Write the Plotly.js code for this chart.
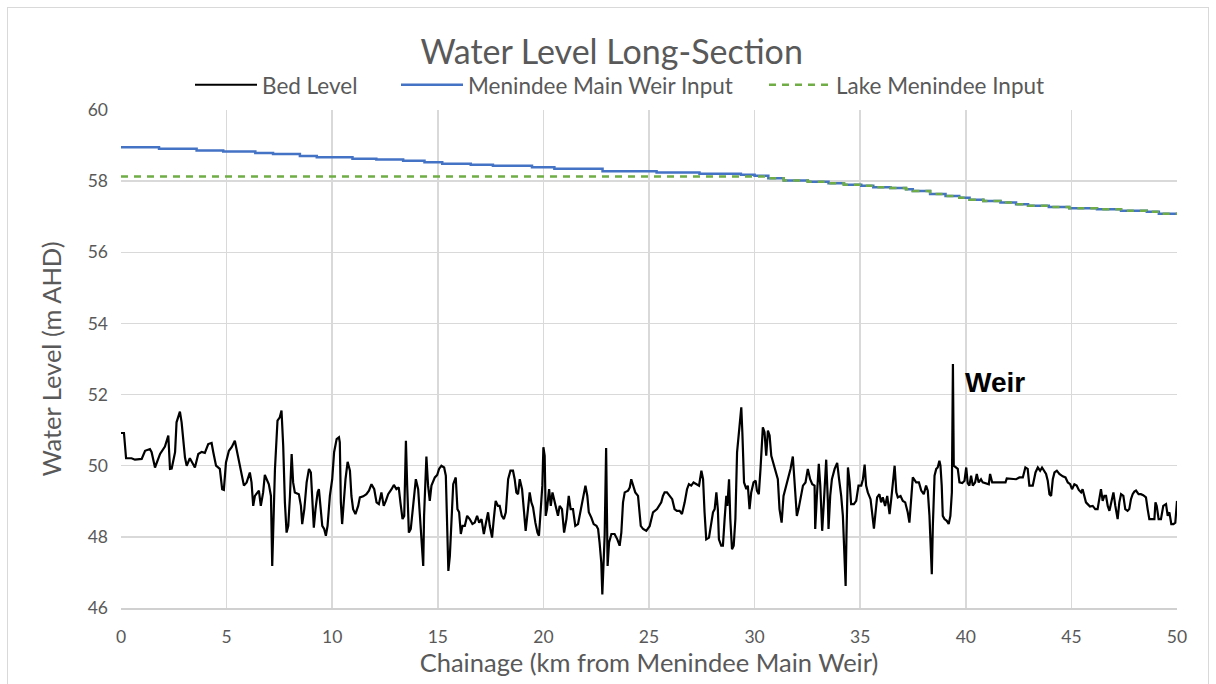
<!DOCTYPE html>
<html>
<head>
<meta charset="utf-8">
<script src="https://cdn.plot.ly/plotly-3.0.1.min.js"></script>
<style>
  html, body { margin: 0; padding: 0; background: #ffffff; }
  #wrap { position: relative; width: 1216px; height: 684px; overflow: hidden; }
  #frame { position: absolute; left: 7px; top: 7px; width: 1202px; height: 700px; border: 1px solid #d9d9d9; box-sizing: border-box; pointer-events: none; }
  #chart { position: absolute; left: 0; top: 0; width: 1216px; height: 684px; }
</style>
</head>
<body>
<div id="wrap">
  <div id="chart"></div>
  <div id="frame"></div>
</div>
<script>
// Chainage (km) and bed level (m AHD)
const bedX = [0, 0.14, 0.24, 0.50, 0.66, 0.98, 1.14, 1.37, 1.45, 1.61, 1.85, 2.08, 2.24, 2.32, 2.40, 2.56, 2.63, 2.79, 2.87, 3.03, 3.11, 3.26, 3.50, 3.66, 3.82, 3.97, 4.13, 4.29, 4.37, 4.50, 4.68, 4.79, 4.87, 4.97, 5.11, 5.24, 5.39, 5.47, 5.60, 5.71, 5.82, 5.95, 6.10,
  6.18, 6.26, 6.34, 6.53, 6.62, 6.73, 6.81, 7.00, 7.10, 7.16, 7.29, 7.37, 7.41, 7.52, 7.60, 7.68, 7.76, 7.84, 7.92, 8.00, 8.08, 8.15, 8.23, 8.42, 8.52, 8.58, 8.68, 8.79, 8.90, 8.99, 9.05, 9.13, 9.21, 9.31, 9.37, 9.46, 9.53, 9.62, 9.70, 9.78, 9.89, 10.00, 10.09, 10.21, 10.32, 10.36, 10.41, 10.47, 10.57, 10.63, 10.73, 10.84, 10.91, 10.99, 11.10, 11.23, 11.31, 11.47, 11.62, 11.74, 11.86, 11.99, 12.10, 12.21, 12.33,
  12.44, 12.54, 12.65, 12.81, 12.92, 13.04, 13.15, 13.23, 13.33, 13.41, 13.49, 13.55, 13.63, 13.72, 13.83, 13.96, 14.07, 14.15, 14.23, 14.31, 14.35, 14.42, 14.46, 14.54, 14.62, 14.70, 14.86, 14.97, 15.06, 15.17, 15.30, 15.38, 15.44, 15.50, 15.57, 15.65, 15.73, 15.85, 15.93, 16.01, 16.09, 16.17, 16.28, 16.39, 16.51, 16.64, 16.75, 16.86, 16.96, 17.07, 17.18, 17.27, 17.38, 17.46, 17.57, 17.65, 17.74, 17.85, 17.93, 18.03, 18.13, 18.22, 18.33, 18.44, 18.56, 18.64,
  18.72, 18.80, 18.88, 18.99, 19.09, 19.16, 19.27, 19.35, 19.43, 19.51, 19.62, 19.72, 19.79, 19.87, 19.95, 20.00, 20.06, 20.11, 20.17, 20.27, 20.35, 20.43, 20.54, 20.62, 20.69, 20.77, 20.88, 20.98, 21.09, 21.20, 21.29, 21.40, 21.51, 21.64, 21.77, 21.88, 21.99, 22.08, 22.15, 22.27, 22.38, 22.51, 22.59, 22.66, 22.74, 22.79, 22.84, 22.90, 22.97, 23.00, 23.04, 23.11, 23.22, 23.37, 23.50, 23.61, 23.69, 23.77, 23.85, 24.01, 24.09, 24.16, 24.24, 24.35, 24.48, 24.61, 24.72, 24.87, 25.03,
  25.19, 25.38, 25.47, 25.58, 25.66, 25.74, 25.85, 25.98, 26.10, 26.21, 26.32, 26.45, 26.56, 26.69, 26.80, 26.89, 27.00, 27.11, 27.24, 27.37, 27.48, 27.56, 27.63, 27.71, 27.84, 27.92, 28.03, 28.11, 28.19, 28.26, 28.31, 28.42, 28.50, 28.58, 28.66, 28.71, 28.79, 28.85, 28.93, 29.01, 29.09, 29.17, 29.26, 29.37, 29.42, 29.50, 29.61, 29.68, 29.76, 29.84, 29.95, 30.05, 30.11, 30.20, 30.28, 30.39, 30.47, 30.55, 30.63, 30.71, 30.79, 30.90, 30.99, 31.10, 31.18, 31.28, 31.37, 31.50, 31.63,
  31.70, 31.81, 31.89, 32.00, 32.08, 32.18, 32.29, 32.41, 32.52, 32.63, 32.73, 32.84, 32.87, 32.95, 33.04, 33.11, 33.20, 33.28, 33.39, 33.47, 33.50, 33.58, 33.66, 33.79, 33.91, 34.00, 34.10, 34.18, 34.26, 34.31, 34.35, 34.42, 34.50, 34.57, 34.70, 34.81, 34.92, 35.05, 35.13, 35.21, 35.28, 35.36, 35.49, 35.55, 35.65, 35.71, 35.80, 35.91, 35.99, 36.07, 36.18, 36.28, 36.39, 36.47, 36.55, 36.63, 36.71, 36.78, 36.91, 37.02, 37.13, 37.25, 37.33, 37.41, 37.49, 37.65, 37.78, 37.89, 38.01,
  38.12, 38.20, 38.28, 38.36, 38.39, 38.44, 38.52, 38.60, 38.67, 38.75, 38.80, 38.86, 38.91, 38.99, 39.10, 39.19, 39.27, 39.34, 39.39, 39.43, 39.51, 39.62, 39.70, 39.83, 39.94, 40.02, 40.09, 40.17, 40.25, 40.33, 40.44, 40.52, 40.61, 40.72, 40.80, 40.96, 41.09, 41.15, 41.25, 41.88, 41.94, 42.38, 42.54, 42.70, 42.82, 42.93, 43.01, 43.17, 43.30, 43.41, 43.52, 43.61, 43.72, 43.80, 43.88, 43.96, 44.04, 44.12, 44.20, 44.31,
  44.43, 44.59, 44.72, 44.83, 44.94, 45.03, 45.14, 45.25, 45.35, 45.46, 45.53, 45.61, 45.69, 45.77, 45.88, 46.01, 46.13, 46.24, 46.32, 46.40, 46.48, 46.56, 46.64, 46.72, 46.80, 46.88, 46.99, 47.08, 47.19, 47.27, 47.35, 47.46, 47.55, 47.66, 47.74, 47.82, 47.90, 47.98, 48.06, 48.18, 48.29, 48.40, 48.53, 48.61, 48.69, 48.93, 48.98, 49.04, 49.13, 49.24, 49.35, 49.48, 49.56, 49.64, 49.73, 49.83, 49.92, 50.00];
const bedY = [50.92, 50.92, 50.21, 50.21, 50.17, 50.19, 50.42, 50.47, 50.38, 49.95, 50.33, 50.54, 50.85, 49.91, 49.92, 50.38, 51.22, 51.52, 51.22, 50.23, 50.00, 50.21, 49.95, 50.33, 50.39, 50.36, 50.61, 50.64, 50.38, 50.00, 49.91, 49.34, 49.32, 50.09, 50.42, 50.52, 50.70, 50.47, 50.02, 49.72, 49.44, 49.53, 49.81,
  49.53, 48.87, 49.15, 49.30, 48.87, 49.25, 49.74, 49.48, 49.15, 47.18, 49.91, 50.66, 51.27, 51.36, 51.55, 50.56, 48.97, 48.12, 48.31, 49.15, 50.33, 49.53, 49.25, 49.20, 48.87, 48.36, 48.78, 49.53, 49.91, 49.81, 48.97, 48.26, 48.78, 49.25, 49.34, 48.78, 48.31, 48.22, 48.03, 48.31, 49.15, 49.62, 50.38, 50.75, 50.80, 50.66, 48.97, 48.36, 49.15, 49.62, 50.11, 49.86, 49.15, 48.78, 48.64, 48.87, 49.11, 49.14, 49.20, 49.30, 49.48, 49.34, 48.97, 48.92, 49.25,
  48.87, 49.01, 49.20, 49.34, 49.46, 49.34, 49.39, 48.97, 48.50, 48.59, 50.70, 49.44, 48.12, 48.22, 48.97, 49.62, 49.34, 48.69, 48.03, 47.18, 48.59, 49.91, 50.26, 49.44, 49.01, 49.44, 49.67, 49.74, 49.91, 50.00, 49.95, 49.72, 48.50, 47.04, 47.46, 48.69, 49.48, 49.67, 48.78, 48.69, 48.08, 48.31, 48.31, 48.59, 48.50, 48.36, 48.40, 48.59, 48.40, 48.50, 48.08, 48.36, 48.69, 48.31, 47.98, 48.50, 49.01, 48.87, 48.87, 48.59, 48.50, 48.69, 49.62, 49.86, 49.86, 49.62,
  49.25, 49.20, 49.62, 49.34, 48.59, 48.17, 48.78, 49.25, 48.97, 48.83, 48.40, 48.12, 48.03, 48.78, 49.44, 50.52, 50.28, 48.59, 48.78, 49.34, 48.87, 49.25, 48.97, 48.78, 48.59, 48.87, 48.78, 48.12, 48.50, 49.15, 48.78, 48.78, 48.31, 48.36, 48.78, 49.15, 49.44, 49.15, 48.69, 48.54, 48.36, 48.31, 48.22, 47.84, 47.28, 46.38, 47.46, 48.03, 50.50, 48.59, 47.18, 47.84, 48.08, 48.08, 47.93, 47.75, 48.12, 48.97, 49.25, 49.30, 49.39, 49.62, 49.44, 49.25, 49.15, 48.31, 48.22, 48.17, 48.30,
  48.69, 48.78, 48.87, 48.97, 49.15, 49.25, 49.25, 49.15, 49.06, 48.78, 48.73, 48.73, 48.64, 48.97, 49.34, 49.48, 49.44, 49.53, 49.48, 49.44, 49.86, 49.62, 48.69, 47.93, 47.98, 48.31, 48.69, 48.78, 49.25, 48.78, 47.93, 47.75, 47.75, 48.50, 49.15, 48.87, 49.62, 48.50, 47.65, 47.75, 48.50, 50.38, 50.94, 51.64, 50.94, 49.53, 49.34, 49.44, 48.78, 49.25, 49.53, 49.58, 49.30, 49.20, 49.91, 51.08, 50.94, 50.28, 50.99, 50.85, 50.28, 50.05, 49.91, 49.62, 48.78, 48.40, 49.15, 49.44, 49.72,
  49.91, 50.26, 49.62, 48.59, 48.78, 49.06, 49.44, 49.53, 49.91, 49.62, 49.48, 49.44, 48.22, 49.15, 50.05, 49.44, 48.17, 48.97, 50.17, 48.97, 48.22, 49.15, 49.62, 49.91, 50.08, 49.62, 49.15, 48.59, 47.46, 46.62, 48.03, 49.95, 49.53, 48.92, 48.92, 49.01, 49.44, 49.44, 49.62, 50.03, 49.44, 49.25, 49.06, 48.69, 48.23, 48.59, 49.11, 49.20, 48.97, 49.11, 48.87, 49.15, 48.64, 49.06, 49.48, 50.00, 49.25, 49.11, 49.15, 49.01, 48.97, 48.69, 48.40, 49.15, 49.67, 49.53, 49.53, 49.30, 49.20,
  49.44, 49.30, 48.59, 47.37, 46.95, 48.31, 49.72, 49.91, 49.95, 50.14, 50.00, 49.44, 48.59, 48.50, 48.45, 48.36, 48.59, 49.25, 52.86, 50.00, 49.95, 49.91, 49.53, 49.51, 49.58, 49.95, 49.51, 49.44, 49.72, 49.44, 49.53, 49.77, 49.53, 49.62, 49.53, 49.51, 49.48, 49.77, 49.53, 49.53, 49.64, 49.62, 49.67, 49.67, 49.95, 49.91, 49.44, 49.44, 49.81, 49.95, 49.86, 49.95, 49.86, 49.77, 49.58, 49.20, 49.15, 49.62, 49.81, 49.86,
  49.77, 49.70, 49.67, 49.53, 49.48, 49.34, 49.48, 49.44, 49.32, 49.25, 49.34, 49.11, 48.97, 48.92, 48.85, 48.87, 48.78, 48.78, 49.11, 49.34, 49.01, 49.15, 49.15, 48.87, 48.73, 48.97, 49.25, 48.87, 48.50, 48.97, 49.20, 49.15, 48.78, 48.73, 48.78, 49.06, 49.20, 49.27, 49.30, 49.20, 49.20, 49.17, 49.11, 48.78, 48.50, 48.50, 48.97, 48.87, 48.50, 48.50, 48.87, 48.92, 48.59, 48.69, 48.36, 48.36, 48.40, 49.01];

// Menindee Main Weir Input water level (stepped profile)
const mainWeirX = [0, 1.80, 3.58, 4.84, 6.36, 7.20, 8.47, 9.27, 10.96, 12.09, 13.36, 14.37, 15.21, 16.56, 17.61, 19.46, 20.52, 22.80, 25.36, 27.39, 29.35, 30.00, 30.65, 31.38, 32.52, 33.50, 34.23, 35.05, 35.62, 36.43, 37.17, 37.49, 38.31, 39.04, 39.69, 40.18, 40.83, 41.64, 42.38, 42.95, 43.93, 44.90, 46.21, 47.35, 48.57, 49.14, 50.00];
const mainWeirY = [58.95, 58.91, 58.86, 58.83, 58.79, 58.76, 58.71, 58.67, 58.63, 58.61, 58.57, 58.53, 58.49, 58.46, 58.43, 58.39, 58.35, 58.28, 58.24, 58.21, 58.18, 58.15, 58.08, 58.02, 57.98, 57.94, 57.90, 57.87, 57.83, 57.81, 57.77, 57.72, 57.64, 57.58, 57.53, 57.48, 57.44, 57.40, 57.35, 57.31, 57.27, 57.24, 57.21, 57.17, 57.14, 57.08, 57.08];

// Lake Menindee Input water level
const lakeX = [0, 30.00, 30.65, 31.38, 32.52, 33.50, 34.23, 35.05, 35.62, 36.43, 37.17, 37.49, 38.31, 39.04, 39.69, 40.18, 40.83, 41.64, 42.38, 42.95, 43.93, 44.90, 46.21, 47.35, 48.57, 49.14, 50.00];
const lakeY = [58.13, 58.13, 58.08, 58.02, 57.98, 57.94, 57.90, 57.87, 57.83, 57.81, 57.77, 57.72, 57.64, 57.58, 57.53, 57.48, 57.44, 57.40, 57.35, 57.31, 57.27, 57.24, 57.21, 57.17, 57.14, 57.08, 57.08];

const seriesNames = ['Bed Level', 'Menindee Main Weir Input', 'Lake Menindee Input'];
const xTicks = [0, 5, 10, 15, 20, 25, 30, 35, 40, 45, 50];
const yTicks = [46, 48, 50, 52, 54, 56, 58, 60];
const weirLabel = {text: 'Weir', x: 39.85, y: 52.33};

const FONT = 'Lato, "Open Sans", sans-serif';
const GREY = '#595959';

const traces = [
  {x: bedX, y: bedY, name: seriesNames[0], type: 'scatter', mode: 'lines', legend: 'legend',
   line: {color: '#000000', width: 2.2}},
  {x: mainWeirX, y: mainWeirY, name: seriesNames[1], type: 'scatter', mode: 'lines', legend: 'legend2',
   line: {color: '#4472C4', width: 2.5, shape: 'hv'}},
  {x: lakeX, y: lakeY, name: seriesNames[2], type: 'scatter', mode: 'lines', legend: 'legend3',
   line: {color: '#70AD47', width: 2.5, dash: '7px,6px', shape: 'hv'}}
];

function legendAt(px) {
  return {orientation: 'h', x: (px - 121) / 1056, xanchor: 'left', y: 1.05, yanchor: 'middle',
          font: {family: FONT, size: 22.5, color: GREY}, itemwidth: 62, bgcolor: 'rgba(0,0,0,0)', borderwidth: 0};
}

const layout = {
  width: 1216, height: 684,
  margin: {l: 121, r: 39, t: 110, b: 76},
  paper_bgcolor: 'rgba(0,0,0,0)', plot_bgcolor: '#ffffff',
  font: {family: FONT, color: GREY, size: 16},
  title: {text: 'Water Level Long-Section', x: 0.503, xanchor: 'center', y: 0.924, yanchor: 'middle',
          font: {family: FONT, size: 34, color: GREY}},
  showlegend: true,
  legend: legendAt(190),
  legend2: legendAt(396),
  legend3: legendAt(764),
  xaxis: {range: [0, 50], tickvals: xTicks, ticktext: xTicks.map(String), showgrid: true, gridcolor: '#d9d9d9', gridwidth: 1.5,
          zeroline: false, showline: true, linecolor: '#d0d0d0', linewidth: 2, ticks: '', ticklabelstandoff: 12,
          tickfont: {family: FONT, size: 17.5, color: GREY},
          title: {text: 'Chainage (km from Menindee Main Weir)', font: {family: FONT, size: 25.5, color: GREY}, standoff: 2}},
  yaxis: {range: [46, 60], tickvals: yTicks, ticktext: yTicks.map(String), showgrid: true, gridcolor: '#d9d9d9', gridwidth: 1.5,
          zeroline: false, showline: false, ticks: '', ticklabelstandoff: 12,
          tickfont: {family: FONT, size: 17.5, color: GREY},
          title: {text: 'Water Level (m AHD)', font: {family: FONT, size: 25.5, color: GREY}, standoff: 18}},
  annotations: [{x: weirLabel.x, y: weirLabel.y, xref: 'x', yref: 'y', text: '<b>' + weirLabel.text + '</b>',
                 showarrow: false, xanchor: 'left', yanchor: 'middle',
                 font: {family: 'Liberation Sans, Arial, sans-serif', size: 28, color: '#000000'}}]
};

Plotly.newPlot('chart', traces, layout, {displayModeBar: false, staticPlot: true});
</script>
</body>
</html>
